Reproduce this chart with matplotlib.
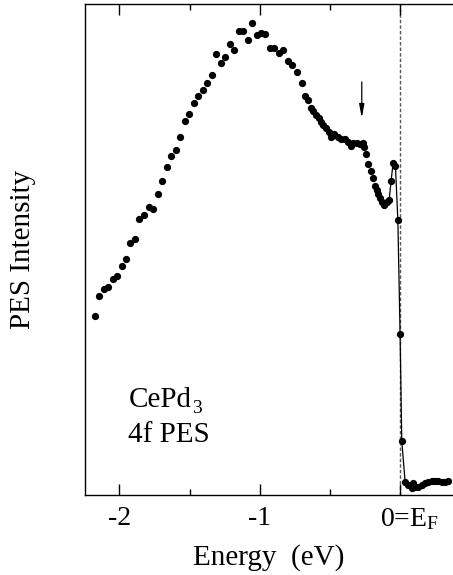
import numpy as np
import matplotlib
matplotlib.use("Agg")
import matplotlib.pyplot as plt
from matplotlib import transforms

plt.rcParams['font.family'] = ['Liberation Serif', 'DejaVu Serif']
plt.rcParams['mathtext.fontset'] = 'custom'
plt.rcParams['mathtext.rm'] = 'Liberation Serif'
plt.rcParams['mathtext.it'] = 'Liberation Serif:italic'

# CePd3 4f PES spectrum (arbitrary intensity units)
energy = [-2.176, -2.142, -2.112, -2.080, -2.046, -2.016, -1.984, -1.952, -1.922, -1.886,
          -1.858, -1.823, -1.791, -1.759, -1.727, -1.696, -1.664, -1.632, -1.599, -1.567,
          -1.536, -1.503, -1.471, -1.440, -1.407, -1.376, -1.343, -1.312, -1.279, -1.248,
          -1.215, -1.184, -1.151, -1.120, -1.087, -1.055, -1.023, -0.991, -0.961, -0.927,
          -0.895, -0.863, -0.831, -0.799, -0.767, -0.734, -0.701, -0.675, -0.657, -0.636,
          -0.617, -0.599, -0.581, -0.562, -0.546, -0.525, -0.510, -0.493, -0.470, -0.441,
          -0.420, -0.391, -0.368, -0.351, -0.332, -0.304, -0.285, -0.265, -0.254, -0.242,
          -0.226, -0.210, -0.196, -0.181, -0.167, -0.159, -0.144, -0.130, -0.112, -0.095,
          -0.078, -0.064, -0.050, -0.033, -0.016, 0.000, 0.012, 0.036, 0.059, 0.083,
          0.095, 0.107, 0.130, 0.154, 0.178, 0.201, 0.226, 0.249, 0.273, 0.297,
          0.320, 0.344]
intensity = [179, 199, 206, 208, 216, 219, 229, 236, 252, 256,
             276, 280, 288, 286, 301, 314, 328, 339, 345, 358,
             374, 381, 392, 399, 405, 412, 420, 441, 432, 438,
             451, 445, 464, 464, 455, 472, 460, 462, 461, 447,
             447, 442, 445, 434, 430, 423, 412, 399, 395, 387,
             384, 380, 377, 373, 370, 367, 363, 358, 361, 358,
             356, 356, 353, 349, 352, 352, 351, 352, 348, 341,
             331, 324, 317, 309, 305, 301, 297, 293, 290, 293,
             295, 314, 332, 329, 275, 161, 54, 13, 10, 7,
             12, 8, 8, 10, 12, 13, 14, 14, 14, 13,
             13, 14]
line_start = 76   # points joined by a thin line near E_F
arrow_e, arrow_top, arrow_tip = -0.273, 413, 377

fig = plt.figure(figsize=(4.53, 5.75), dpi=100)
ax = fig.add_axes([85/453, 80/575, 1 - 85/453, 491/575])

e = np.array(energy)
I = np.array(intensity)
ax.plot(e[line_start:], I[line_start:], '-', color='black', lw=0.9)
ax.plot(e, I, 'o', color='black', ms=4.2, mec='black')

ax.axvline(0, color='#555555', lw=1.0, ls=(0, (2.5, 1.5)), zorder=0)

ax.annotate('', xy=(arrow_e, arrow_tip), xytext=(arrow_e, arrow_top),
            arrowprops=dict(arrowstyle='-|>,head_length=0.8,head_width=0.15',
                            color='black', lw=0.9, shrinkA=0, shrinkB=0))

ax.set_xlim(-2.245, 0.377)
ax.set_ylim(0, 491)

# sample label, subscript placed by hand so it sits low like the original
t1 = ax.text(-1.936, 88, 'CePd', fontsize=21, ha='left', va='baseline')
ax.text(-1.936, 53, '4f PES', fontsize=21, ha='left', va='baseline')
fig.canvas.draw()
w_pt = t1.get_window_extent().width * 72 / fig.dpi
ax.annotate('3', xy=(-1.936, 88), xycoords='data',
            xytext=(w_pt + 0.5, -4.5), textcoords='offset points',
            fontsize=14, ha='left', va='baseline')

ax.spines['right'].set_visible(False)
for s in ['left', 'bottom', 'top']:
    ax.spines[s].set_linewidth(1.0)

ax.set_xticks([-2, -1, 0])
ax.set_xticklabels(['-2', '-1', '0=E$_\\mathrm{F}$'])
ax.set_xticks([-1.5, -0.5], minor=True)
ax.set_yticks([])
ax.tick_params(axis='x', which='major', direction='in', length=8, width=1.0,
               top=True, labelsize=20, pad=8)
ax.tick_params(axis='x', which='minor', direction='in', length=4.5, width=1.0, top=True)

lab = ax.get_xticklabels()[2]
lab.set_transform(lab.get_transform() + transforms.ScaledTranslation(9/100, 0, fig.dpi_scale_trans))

ax.set_xlabel('Energy  (eV)', fontsize=21, labelpad=9)
ax.set_ylabel('PES Intensity', fontsize=21, labelpad=35)

fig.savefig('out.png', dpi=100)
